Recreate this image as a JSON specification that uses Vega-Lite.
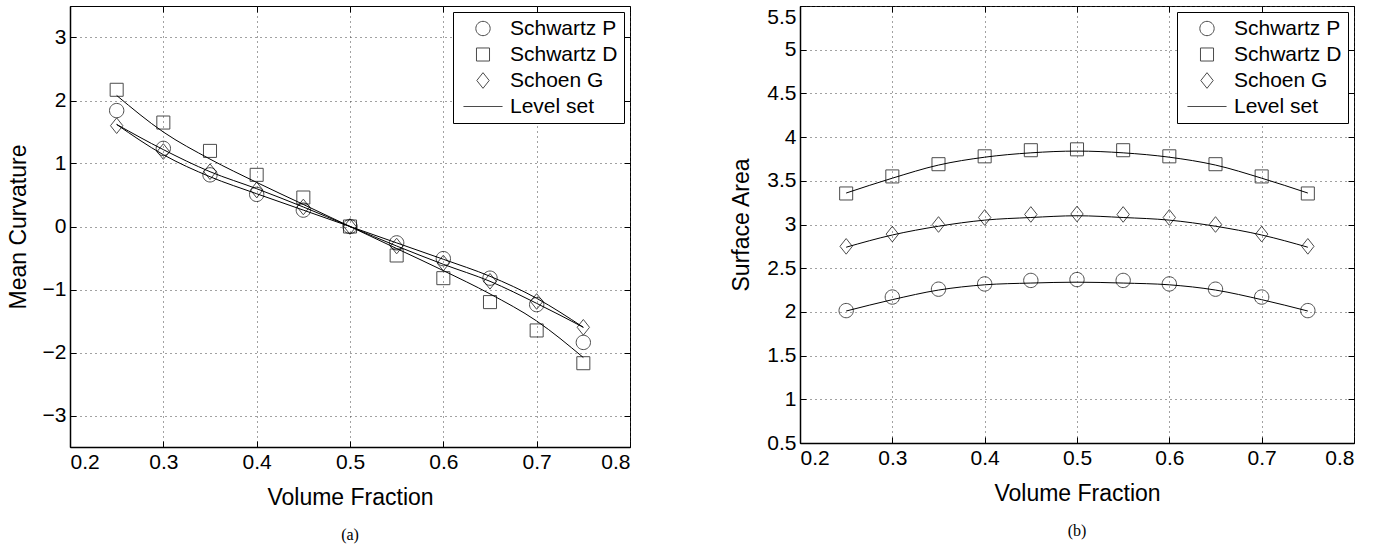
{
  "$schema": "https://vega.github.io/schema/vega-lite/v6.json",
  "background": "white",
  "padding": {"left": 6, "top": 5, "right": 5, "bottom": 0},
  "bounds": "flush",
  "spacing": 170,
  "datasets": {
    "ptsA": [
      {"x": 0.25, "y": 1.84, "s": "Schwartz P"}, {"x": 0.3, "y": 1.24, "s": "Schwartz P"}, {"x": 0.35, "y": 0.82, "s": "Schwartz P"}, {"x": 0.4, "y": 0.51, "s": "Schwartz P"}, {"x": 0.45, "y": 0.26, "s": "Schwartz P"}, {"x": 0.5, "y": 0, "s": "Schwartz P"}, {"x": 0.55, "y": -0.26, "s": "Schwartz P"}, {"x": 0.6, "y": -0.51, "s": "Schwartz P"}, {"x": 0.65, "y": -0.82, "s": "Schwartz P"}, {"x": 0.7, "y": -1.24, "s": "Schwartz P"}, {"x": 0.75, "y": -1.84, "s": "Schwartz P"},
      {"x": 0.25, "y": 2.17, "s": "Schwartz D"}, {"x": 0.3, "y": 1.65, "s": "Schwartz D"}, {"x": 0.35, "y": 1.2, "s": "Schwartz D"}, {"x": 0.4, "y": 0.82, "s": "Schwartz D"}, {"x": 0.45, "y": 0.46, "s": "Schwartz D"}, {"x": 0.5, "y": 0, "s": "Schwartz D"}, {"x": 0.55, "y": -0.46, "s": "Schwartz D"}, {"x": 0.6, "y": -0.82, "s": "Schwartz D"}, {"x": 0.65, "y": -1.2, "s": "Schwartz D"}, {"x": 0.7, "y": -1.65, "s": "Schwartz D"}, {"x": 0.75, "y": -2.17, "s": "Schwartz D"},
      {"x": 0.25, "y": 1.6, "s": "Schoen G"}, {"x": 0.3, "y": 1.19, "s": "Schoen G"}, {"x": 0.35, "y": 0.87, "s": "Schoen G"}, {"x": 0.4, "y": 0.58, "s": "Schoen G"}, {"x": 0.45, "y": 0.31, "s": "Schoen G"}, {"x": 0.5, "y": 0, "s": "Schoen G"}, {"x": 0.55, "y": -0.31, "s": "Schoen G"}, {"x": 0.6, "y": -0.58, "s": "Schoen G"}, {"x": 0.65, "y": -0.87, "s": "Schoen G"}, {"x": 0.7, "y": -1.19, "s": "Schoen G"}, {"x": 0.75, "y": -1.6, "s": "Schoen G"}
    ],
    "linA": [
      {"x": 0.25, "y": 2.08, "c": "D"}, {"x": 0.3, "y": 1.5, "c": "D"}, {"x": 0.35, "y": 1.07, "c": "D"}, {"x": 0.4, "y": 0.7, "c": "D"}, {"x": 0.45, "y": 0.35, "c": "D"}, {"x": 0.5, "y": 0, "c": "D"}, {"x": 0.55, "y": -0.35, "c": "D"}, {"x": 0.6, "y": -0.7, "c": "D"}, {"x": 0.65, "y": -1.07, "c": "D"}, {"x": 0.7, "y": -1.5, "c": "D"}, {"x": 0.75, "y": -2.08, "c": "D"},
      {"x": 0.25, "y": 1.62, "c": "A"}, {"x": 0.3, "y": 1.22, "c": "A"}, {"x": 0.35, "y": 0.87, "c": "A"}, {"x": 0.4, "y": 0.6, "c": "A"}, {"x": 0.45, "y": 0.31, "c": "A"}, {"x": 0.5, "y": 0, "c": "A"}, {"x": 0.55, "y": -0.31, "c": "A"}, {"x": 0.6, "y": -0.6, "c": "A"}, {"x": 0.65, "y": -0.87, "c": "A"}, {"x": 0.7, "y": -1.22, "c": "A"}, {"x": 0.75, "y": -1.6, "c": "A"},
      {"x": 0.25, "y": 1.62, "c": "B"}, {"x": 0.3, "y": 1.14, "c": "B"}, {"x": 0.35, "y": 0.79, "c": "B"}, {"x": 0.4, "y": 0.52, "c": "B"}, {"x": 0.45, "y": 0.26, "c": "B"}, {"x": 0.5, "y": 0, "c": "B"}, {"x": 0.55, "y": -0.26, "c": "B"}, {"x": 0.6, "y": -0.52, "c": "B"}, {"x": 0.65, "y": -0.79, "c": "B"}, {"x": 0.7, "y": -1.14, "c": "B"}, {"x": 0.75, "y": -1.6, "c": "B"}
    ],
    "ptsB": [
      {"x": 0.25, "y": 2.015, "s": "Schwartz P"}, {"x": 0.3, "y": 2.17, "s": "Schwartz P"}, {"x": 0.35, "y": 2.26, "s": "Schwartz P"}, {"x": 0.4, "y": 2.32, "s": "Schwartz P"}, {"x": 0.45, "y": 2.36, "s": "Schwartz P"}, {"x": 0.5, "y": 2.37, "s": "Schwartz P"}, {"x": 0.55, "y": 2.36, "s": "Schwartz P"}, {"x": 0.6, "y": 2.32, "s": "Schwartz P"}, {"x": 0.65, "y": 2.26, "s": "Schwartz P"}, {"x": 0.7, "y": 2.17, "s": "Schwartz P"}, {"x": 0.75, "y": 2.015, "s": "Schwartz P"},
      {"x": 0.25, "y": 3.355, "s": "Schwartz D"}, {"x": 0.3, "y": 3.55, "s": "Schwartz D"}, {"x": 0.35, "y": 3.69, "s": "Schwartz D"}, {"x": 0.4, "y": 3.78, "s": "Schwartz D"}, {"x": 0.45, "y": 3.85, "s": "Schwartz D"}, {"x": 0.5, "y": 3.86, "s": "Schwartz D"}, {"x": 0.55, "y": 3.85, "s": "Schwartz D"}, {"x": 0.6, "y": 3.78, "s": "Schwartz D"}, {"x": 0.65, "y": 3.69, "s": "Schwartz D"}, {"x": 0.7, "y": 3.55, "s": "Schwartz D"}, {"x": 0.75, "y": 3.355, "s": "Schwartz D"},
      {"x": 0.25, "y": 2.75, "s": "Schoen G"}, {"x": 0.3, "y": 2.89, "s": "Schoen G"}, {"x": 0.35, "y": 3.0, "s": "Schoen G"}, {"x": 0.4, "y": 3.08, "s": "Schoen G"}, {"x": 0.45, "y": 3.115, "s": "Schoen G"}, {"x": 0.5, "y": 3.12, "s": "Schoen G"}, {"x": 0.55, "y": 3.115, "s": "Schoen G"}, {"x": 0.6, "y": 3.08, "s": "Schoen G"}, {"x": 0.65, "y": 3.0, "s": "Schoen G"}, {"x": 0.7, "y": 2.89, "s": "Schoen G"}, {"x": 0.75, "y": 2.75, "s": "Schoen G"}
    ],
    "linB": [
      {"x": 0.25, "y": 3.36, "c": "D"}, {"x": 0.3, "y": 3.53, "c": "D"}, {"x": 0.35, "y": 3.68, "c": "D"}, {"x": 0.4, "y": 3.77, "c": "D"}, {"x": 0.45, "y": 3.82, "c": "D"}, {"x": 0.5, "y": 3.84, "c": "D"}, {"x": 0.55, "y": 3.82, "c": "D"}, {"x": 0.6, "y": 3.77, "c": "D"}, {"x": 0.65, "y": 3.68, "c": "D"}, {"x": 0.7, "y": 3.53, "c": "D"}, {"x": 0.75, "y": 3.36, "c": "D"},
      {"x": 0.25, "y": 2.74, "c": "G"}, {"x": 0.3, "y": 2.88, "c": "G"}, {"x": 0.35, "y": 2.98, "c": "G"}, {"x": 0.4, "y": 3.05, "c": "G"}, {"x": 0.45, "y": 3.08, "c": "G"}, {"x": 0.5, "y": 3.1, "c": "G"}, {"x": 0.55, "y": 3.08, "c": "G"}, {"x": 0.6, "y": 3.05, "c": "G"}, {"x": 0.65, "y": 2.98, "c": "G"}, {"x": 0.7, "y": 2.88, "c": "G"}, {"x": 0.75, "y": 2.74, "c": "G"},
      {"x": 0.25, "y": 2.01, "c": "P"}, {"x": 0.3, "y": 2.14, "c": "P"}, {"x": 0.35, "y": 2.25, "c": "P"}, {"x": 0.4, "y": 2.31, "c": "P"}, {"x": 0.45, "y": 2.33, "c": "P"}, {"x": 0.5, "y": 2.34, "c": "P"}, {"x": 0.55, "y": 2.33, "c": "P"}, {"x": 0.6, "y": 2.31, "c": "P"}, {"x": 0.65, "y": 2.25, "c": "P"}, {"x": 0.7, "y": 2.14, "c": "P"}, {"x": 0.75, "y": 2.01, "c": "P"}
    ]
  },
  "config": {
    "font": "Liberation Sans",
    "view": {"stroke": "black", "strokeWidth": 1},
    "axis": {
      "domainColor": "black", "domainWidth": 1.5,
      "tickColor": "black", "tickSize": -6, "tickWidth": 1,
      "labelFont": "Liberation Sans", "labelFontSize": 21, "labelColor": "black", "labelPadding": 10,
      "titleFont": "Liberation Sans", "titleFontSize": 23, "titleFontWeight": "normal", "titleColor": "black",
      "grid": true, "gridColor": "#444", "gridDash": [1, 4], "gridWidth": 1, "gridOpacity": 1
    },
    "legend": {
      "orient": "top-right", "offset": 6, "strokeColor": "black", "fillColor": "white", "padding": 6,
      "labelFont": "Liberation Sans", "labelFontSize": 21, "labelColor": "black", "rowPadding": 4,
      "symbolStrokeColor": "black", "symbolFillColor": "transparent", "symbolStrokeWidth": 1,
      "symbolSize": 170, "symbolOffset": 13.5, "labelOffset": 16.5, "title": null, "cornerRadius": 0
    },
    "title": {"orient": "bottom", "font": "Liberation Serif", "fontSize": 16, "fontWeight": "normal", "color": "black", "anchor": "middle", "offset": 18}
  },
  "hconcat": [
    {
      "width": 560, "height": 441,
      "title": {"text": "(a)"},
      "resolve": {"axis": {"x": "independent", "y": "independent"}},
      "layer": [
        {
          "data": {"name": "linA"},
          "mark": {"type": "line", "color": "black", "strokeWidth": 1, "interpolate": "monotone"},
          "encoding": {
            "x": {"field": "x", "type": "quantitative", "scale": {"domain": [0.2, 0.8]}, "axis": {"title": "Volume Fraction", "values": [0.2, 0.3, 0.4, 0.5, 0.6, 0.7, 0.8], "format": ".1f", "titlePadding": 14}},
            "y": {"field": "y", "type": "quantitative", "scale": {"domain": [-3.5, 3.5]}, "axis": {"title": "Mean Curvature", "values": [-3, -2, -1, 0, 1, 2, 3], "format": "d", "titlePadding": 12}},
            "detail": {"field": "c"}
          }
        },
        {
          "data": {"name": "ptsA"},
          "mark": {"type": "point", "filled": false, "color": "black", "strokeWidth": 1, "size": 170},
          "encoding": {
            "x": {"field": "x", "type": "quantitative", "axis": {"orient": "top", "labels": false, "title": null, "grid": false, "domain": false, "values": [0.2, 0.3, 0.4, 0.5, 0.6, 0.7, 0.8]}},
            "y": {"field": "y", "type": "quantitative", "axis": {"orient": "right", "labels": false, "title": null, "grid": false, "domain": false, "values": [-3, -2, -1, 0, 1, 2, 3]}},
            "shape": {"field": "s", "type": "nominal", "scale": {"domain": ["Schwartz P", "Schwartz D", "Schoen G", "Level set"], "range": ["M1.1,0A1.1,1.1 0 1,1 -1.1,0A1.1,1.1 0 1,1 1.1,0Z", "square", "M0,-1.2L0.95,0L0,1.2L-0.95,0Z", "M-3,0H3"]}}
          }
        }
      ]
    },
    {
      "width": 554, "height": 437,
      "title": {"text": "(b)"},
      "resolve": {"axis": {"x": "independent", "y": "independent"}},
      "layer": [
        {
          "data": {"name": "linB"},
          "mark": {"type": "line", "color": "black", "strokeWidth": 1, "interpolate": "monotone"},
          "encoding": {
            "x": {"field": "x", "type": "quantitative", "scale": {"domain": [0.2, 0.8]}, "axis": {"title": "Volume Fraction", "values": [0.2, 0.3, 0.4, 0.5, 0.6, 0.7, 0.8], "format": ".1f", "titlePadding": 14}},
            "y": {"field": "y", "type": "quantitative", "scale": {"domain": [0.5, 5.5]}, "axis": {"title": "Surface Area", "values": [0.5, 1, 1.5, 2, 2.5, 3, 3.5, 4, 4.5, 5, 5.5], "format": "~g", "titlePadding": 13,
              "labelBaseline": {"condition": {"test": "datum.value === 5.5", "value": "top"}, "value": "middle"}}},
            "detail": {"field": "c"}
          }
        },
        {
          "data": {"name": "ptsB"},
          "mark": {"type": "point", "filled": false, "color": "black", "strokeWidth": 1, "size": 170},
          "encoding": {
            "x": {"field": "x", "type": "quantitative", "axis": {"orient": "top", "labels": false, "title": null, "grid": false, "domain": false, "values": [0.2, 0.3, 0.4, 0.5, 0.6, 0.7, 0.8]}},
            "y": {"field": "y", "type": "quantitative", "axis": {"orient": "right", "labels": false, "title": null, "grid": false, "domain": false, "values": [0.5, 1, 1.5, 2, 2.5, 3, 3.5, 4, 4.5, 5, 5.5]}},
            "shape": {"field": "s", "type": "nominal", "scale": {"domain": ["Schwartz P", "Schwartz D", "Schoen G", "Level set"], "range": ["M1.1,0A1.1,1.1 0 1,1 -1.1,0A1.1,1.1 0 1,1 1.1,0Z", "square", "M0,-1.2L0.95,0L0,1.2L-0.95,0Z", "M-3,0H3"]}}
          }
        }
      ]
    }
  ],
  "resolve": {"scale": {"shape": "independent"}, "legend": {"shape": "independent"}}
}
